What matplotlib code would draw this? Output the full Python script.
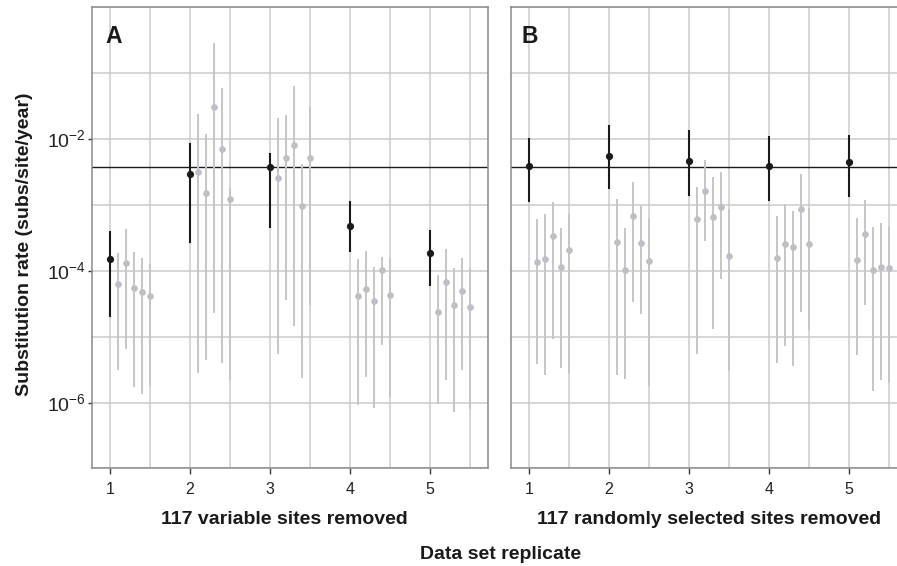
import matplotlib
matplotlib.use("Agg")
import matplotlib.pyplot as plt
import numpy as np

plt.rcParams['font.family'] = ['Liberation Sans', 'DejaVu Sans']
plt.rcParams['mathtext.fontset'] = 'custom'
plt.rcParams['mathtext.rm'] = 'Liberation Sans'

replicates = [1, 2, 3, 4, 5]
ref_rate = 3.77e-3

# panel A: 117 variable sites removed
a_rate = [1.52e-4, 2.95e-3, 3.72e-3, 4.86e-4, 1.85e-4]
a_lo = [1.96e-5, 2.62e-4, 4.44e-4, 1.92e-4, 5.79e-5]
a_hi = [4.04e-4, 8.59e-3, 6.07e-3, 1.15e-3, 4.18e-4]

# sub-replicates (grey), one row per replicate
a_sub_rate = [[6.35e-5, 1.31e-4, 5.58e-5, 4.75e-5, 4.13e-5],
              [3.13e-3, 1.54e-3, 3.05e-2, 7.14e-3, 1.23e-3],
              [2.54e-3, 5.09e-3, 8.11e-3, 9.77e-4, 5.09e-3],
              [4.13e-5, 5.27e-5, 3.47e-5, 1.02e-4, 4.23e-5],
              [2.39e-5, 6.65e-5, 3.02e-5, 4.92e-5, 2.78e-5]]
a_sub_lo = [[3.16e-6, 6.50e-6, 1.73e-6, 1.37e-6, 1.77e-6],
            [2.82e-6, 4.38e-6, 2.29e-5, 3.99e-6, 2.24e-6],
            [5.52e-6, 3.56e-5, 1.47e-5, 2.37e-6, 3.05e-5],
            [9.33e-7, 2.42e-6, 8.30e-7, 7.57e-6, 1.22e-6],
            [9.55e-7, 2.23e-6, 7.23e-7, 3.09e-6, 7.90e-7]]
a_sub_hi = [[1.85e-4, 4.33e-4, 1.92e-4, 1.56e-4, 1.26e-4],
            [2.37e-2, 1.18e-2, 2.88e-1, 5.86e-2, 1.82e-3],
            [2.10e-2, 2.31e-2, 6.35e-2, 4.13e-3, 3.02e-2],
            [1.50e-4, 2.01e-4, 1.14e-4, 1.61e-4, 1.56e-4],
            [8.69e-5, 2.13e-4, 1.10e-4, 1.56e-4, 1.12e-4]]

# panel B: 117 randomly selected sites removed
b_rate = [3.94e-3, 5.58e-3, 4.65e-3, 3.94e-3, 4.43e-3]
b_lo = [1.12e-3, 1.73e-3, 1.38e-3, 1.15e-3, 1.34e-3]
b_hi = [1.02e-2, 1.63e-2, 1.37e-2, 1.12e-2, 1.15e-2]

b_sub_rate = [[1.38e-4, 1.52e-4, 3.43e-4, 1.16e-4, 2.08e-4],
              [2.78e-4, 1.04e-4, 6.89e-4, 2.62e-4, 1.42e-4],
              [6.07e-4, 1.65e-3, 6.65e-4, 9.23e-4, 1.65e-4],
              [1.59e-4, 2.56e-4, 2.29e-4, 8.79e-4, 2.54e-4],
              [1.47e-4, 3.64e-4, 1.04e-4, 1.16e-4, 1.12e-4]]
b_sub_lo = [[3.90e-6, 2.65e-6, 9.33e-6, 3.35e-6, 2.85e-6],
            [2.65e-6, 2.29e-6, 3.35e-5, 2.20e-5, 1.77e-6],
            [5.46e-6, 2.88e-4, 1.32e-5, 7.48e-5, 2.99e-6],
            [3.99e-6, 7.14e-6, 3.64e-6, 2.34e-5, 1.28e-5],
            [5.33e-6, 2.99e-5, 1.49e-6, 2.18e-6, 2.00e-6]]
b_sub_hi = [[6.07e-4, 7.23e-4, 1.10e-3, 4.54e-4, 7.31e-4],
            [1.23e-3, 4.54e-4, 2.20e-3, 9.66e-4, 6.28e-4],
            [1.90e-3, 4.81e-3, 2.62e-3, 3.13e-3, 8.69e-4],
            [6.81e-4, 1.04e-3, 8.20e-4, 2.92e-3, 8.91e-4],
            [6.28e-4, 1.19e-3, 4.70e-4, 5.40e-4, 4.70e-4]]

panels = [("A", "117 variable sites removed", a_rate, a_lo, a_hi, a_sub_rate, a_sub_lo, a_sub_hi),
          ("B", "117 randomly selected sites removed", b_rate, b_lo, b_hi, b_sub_rate, b_sub_lo, b_sub_hi)]

grey_pt = '#bebec3'
grey_bar = '#c6c6ca'
dark = '#1a1a1a'

fig = plt.figure(figsize=(8.97, 5.66), dpi=100)
# right panel runs past the right edge of the image (cropped figure)
ax_a = fig.add_axes([0.1026, 0.1723, 0.4415, 0.8149])
ax_b = fig.add_axes([0.5697, 0.1723, 0.4415, 0.8149])

letter_x = [0.035, 0.027]
sub_x = [0.485, 0.5]

for j, (ax, (letter, sub, rate, lo, hi, s_rate, s_lo, s_hi)) in enumerate(zip([ax_a, ax_b], panels)):
    ax.set_yscale('log')
    ax.set_xlim(0.775, 5.725)
    ax.set_ylim(1e-7, 1)

    # grid
    for gx in np.arange(1, 5.6, 0.5):
        ax.axvline(gx, color='#cbcbcb', lw=1.1, zorder=0)
    for gy in 10.0 ** np.arange(-7, 1):
        ax.axhline(gy, color='#cbcbcb', lw=1.1, zorder=0)

    ax.axhline(ref_rate, color=dark, lw=1.0, zorder=2)

    for i, r in enumerate(replicates):
        xs = [r + 0.1 * (k + 1) for k in range(5)]
        ax.vlines(xs, s_lo[i], s_hi[i], color=grey_bar, lw=1.4, zorder=3)
        ax.plot(xs, s_rate[i], 'o', ms=4.8, color=grey_pt, mec='none', zorder=4)
    ax.vlines(replicates, lo, hi, color=dark, lw=1.5, zorder=5)
    ax.plot(replicates, rate, 'o', ms=5.2, color=dark, mec='none', zorder=6)

    ax.text(letter_x[j], 0.9226, letter, transform=ax.transAxes, fontsize=16.5,
            fontweight='bold', color='#1a1a1a', va='baseline', ha='left')

    ax.set_xticks(replicates)
    ax.set_xticklabels([str(r) for r in replicates], fontsize=11.5, color='#222222')
    ax.set_yticks([1e-6, 1e-4, 1e-2])
    ax.set_yticklabels([r'$10^{-6}$', r'$10^{-4}$', r'$10^{-2}$'], fontsize=14, color='#222222')
    ax.minorticks_off()
    ax.tick_params(axis='x', length=4, width=1, color='#333333', pad=6)
    ax.tick_params(axis='y', length=3, width=1, color='#333333', pad=1.5)
    for sp in ax.spines.values():
        sp.set_color('#8a8a8a')
        sp.set_linewidth(1.1)
    ax.text(sub_x[j], -0.1117, sub, transform=ax.transAxes, fontsize=14,
            fontweight='bold', color='#1a1a1a', ha='center', va='center')

ax_b.tick_params(axis='y', labelleft=False, length=0)
fig.text(0.027, 0.569, 'Substitution rate (subs/site/year)', rotation=90,
         ha='center', va='center', fontsize=14, fontweight='bold', color='#1a1a1a')
fig.text(0.5585, 0.021, 'Data set replicate', ha='center', va='center',
         fontsize=14, fontweight='bold', color='#1a1a1a')

fig.savefig('out.png', dpi=100)
